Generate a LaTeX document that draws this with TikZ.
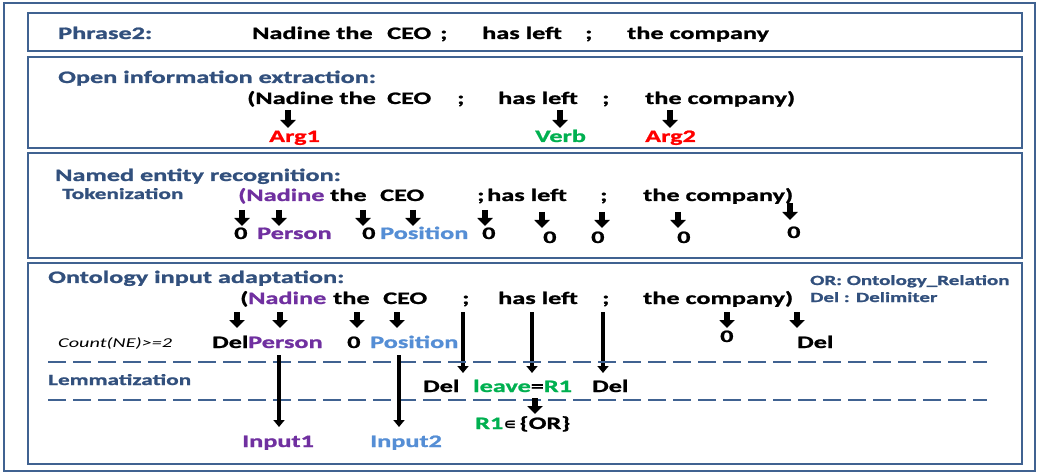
\documentclass[tikz,border=0pt]{standalone}
\usepackage{fontspec}
\setmainfont{Carlito}[FakeStretch=1.5, BoldFeatures={FakeBold=1.2}]
\newfontfamily\symfont{DejaVu Sans}[FakeStretch=1.2]
\usetikzlibrary{arrows.meta}
\definecolor{boxblue}{RGB}{64,98,145}
\definecolor{ttlblue}{RGB}{50,80,125}
\definecolor{ppl}{RGB}{112,48,160}
\definecolor{lblue}{RGB}{85,142,213}
\definecolor{grn}{RGB}{0,176,80}
\definecolor{rd}{RGB}{255,0,0}
\newcommand{\myarr}[5]{%
  \coordinate (#1s) at (#2,#3); \coordinate (#1e) at (#2,#4);
  \draw[#5] (#1s) -- (#1e);}
\begin{document}
\begin{tikzpicture}[x=1pt,y=-1pt,
  tx/.style={inner sep=0pt, anchor=base west, font=\fontsize{17.5}{20}\selectfont\bfseries},
  ttl/.style={tx, text=ttlblue},
  sub/.style={inner sep=0pt, anchor=base west, font=\fontsize{15.5}{18}\selectfont\bfseries, text=ttlblue},
  legend/.style={inner sep=0pt, anchor=base west, font=\fontsize{14}{16}\selectfont\bfseries, text=ttlblue},
  panel/.style={draw=boxblue, line width=2.5pt},
  sarr/.style={line width=6pt, -{Triangle[width=15pt,length=8pt]}},
  larr/.style={line width=3.6pt, -{Triangle[width=11pt,length=7pt]}},
  sepline/.style={draw=boxblue, line width=2.7pt, dash pattern=on 18pt off 7pt}
]
\useasboundingbox (0,0) rectangle (1039,473);
\fill[white] (0,0) rectangle (1039,473);
\draw[boxblue, line width=2pt] (4,3) rectangle (1035,471);
\draw[panel] (28,13) rectangle (1022,51);
\draw[panel] (28,57) rectangle (1022,148);
\draw[panel] (28,153) rectangle (1022,258);
\draw[panel] (28,263) rectangle (1022,464);

% ---- Box 1
\node[ttl] (p2) at (58,39) {Phrase2:};
\node[tx] (p2a) at (252,39) {Nadine the};
\node[tx] (p2b) at (387,39) {CEO};
\node[tx] (p2c) at (440,39) {;};
\node[tx] (p2d) at (482,39) {has left};
\node[tx] (p2e) at (585,39) {;};
\node[tx] (p2f) at (627,39) {the company};

% ---- Box 2
\node[ttl] (oie) at (58,83) {Open information extraction:};
\node[tx] (o1) at (247,104) {(Nadine the};
\node[tx] (o2) at (387,104) {CEO};
\node[tx] (o3) at (457,104) {;};
\node[tx] (o4) at (498,104) {has left};
\node[tx] (o5) at (602,104) {;};
\node[tx] (o6) at (645,104) {the company)};
\myarr{a1}{288}{110}{128}{sarr}
\myarr{a2}{560}{110}{128}{sarr}
\myarr{a3}{670}{110}{128}{sarr}
\node[tx,text=rd] (arg1) at (269,142) {Arg1};
\node[tx,text=grn] (verb) at (535,142) {Verb};
\node[tx,text=rd] (arg2) at (645,142) {Arg2};

% ---- Box 3
\node[ttl] (ner) at (55,181) {Named entity recognition:};
\node[sub] (tok) at (62,199) {Tokenization};
\node[tx,text=ppl] (n1) at (238,201) {(Nadine};
\node[tx] (n2) at (330,201) {the};
\node[tx] (n3) at (380,201) {CEO};
\node[tx] (n4) at (477,201) {;};
\node[tx] (n5) at (487,201) {has left};
\node[tx] (n6) at (600,201) {;};
\node[tx] (n7) at (643,201) {the company)};
\myarr{b1}{242}{210}{226}{sarr}
\myarr{b2}{279}{210}{226}{sarr}
\myarr{b3}{363}{210}{226}{sarr}
\myarr{b4}{413}{210}{226}{sarr}
\myarr{b5}{485}{210}{226}{sarr}
\myarr{b6}{542}{212}{228}{sarr}
\myarr{b7}{602}{212}{228}{sarr}
\myarr{b8}{678}{212}{228}{sarr}
\myarr{b9}{790}{203}{220}{sarr}
\node[tx] (z1) at (234,239) {0};
\node[tx,text=ppl] (per1) at (257,239) {Person};
\node[tx] (z2) at (362,239) {0};
\node[tx,text=lblue] (pos1) at (380,239) {Position};
\node[tx] (z3) at (482,239) {0};
\node[tx] (z4) at (543,243) {0};
\node[tx] (z5) at (591,243) {0};
\node[tx] (z6) at (677,243) {0};
\node[tx] (z7) at (787,238) {0};

% ---- Box 4
\node[ttl] (oia) at (48,283) {Ontology input adaptation:};
\node[legend] (leg1) at (810,285) {OR: Ontology\_Relation};
\node[legend] (leg2) at (810,302) {Del : Delimiter};
\node[tx] (c0) at (240,304) {(};
\node[tx,text=ppl] (c1) at (248,304) {Nadine};
\node[tx] (c2) at (333,304) {the};
\node[tx] (c3) at (383,304) {CEO};
\node[tx] (c4) at (462,304) {;};
\node[tx] (c5) at (498,304) {has left};
\node[tx] (c6) at (602,304) {;};
\node[tx] (c7) at (643,304) {the company)};
\myarr{d1}{237}{312}{328}{sarr}
\myarr{d2}{280}{312}{328}{sarr}
\myarr{d3}{357}{312}{328}{sarr}
\myarr{d4}{397}{312}{328}{sarr}
\myarr{d5}{727}{312}{328}{sarr}
\myarr{d6}{797}{312}{328}{sarr}
\myarr{e1}{463}{312}{373}{larr}
\myarr{e2}{532}{312}{373}{larr}
\myarr{e3}{603}{312}{373}{larr}
\node[inner sep=0pt, anchor=base west, font=\fontsize{13.5}{16}\selectfont\itshape] (cnt) at (58,347) {Count(NE)>=2};
\node[tx] (del1) at (212,348) {Del};
\node[tx,text=ppl] (per2) at (248,348) {Person};
\node[tx] (z8) at (347,348) {0};
\node[tx,text=lblue] (pos2) at (370,348) {Position};
\node[tx] (z9) at (720,342) {0};
\node[tx] (del2) at (797,348) {Del};
\coordinate (s1a) at (48,362); \coordinate (s1b) at (987,362);
\coordinate (s2a) at (48,400); \coordinate (s2b) at (987,400);
\draw[sepline] (s1a) -- (s1b);
\draw[sepline] (s2a) -- (s2b);
\node[sub] (lem) at (48,385) {Lemmatization};
\node[tx] (del3) at (423,392) {Del};
\node[tx] (lv) at (473,392) {\textcolor{grn}{leave}=\textcolor{grn}{R1}};
\node[tx] (del4) at (592,392) {Del};
\myarr{f1}{535}{398}{414}{sarr}
\node[tx] (r1) at (475,429) {\textcolor{grn}{R1}{\symfont\bfseries\fontsize{15}{17}\selectfont ∊}\,\{OR\}};
\myarr{g1}{279}{355}{427}{larr}
\myarr{g2}{399}{355}{427}{larr}
\node[tx,text=ppl] (in1) at (242,447) {Input1};
\node[tx,text=lblue] (in2) at (370,447) {Input2};
\end{tikzpicture}
\end{document}
